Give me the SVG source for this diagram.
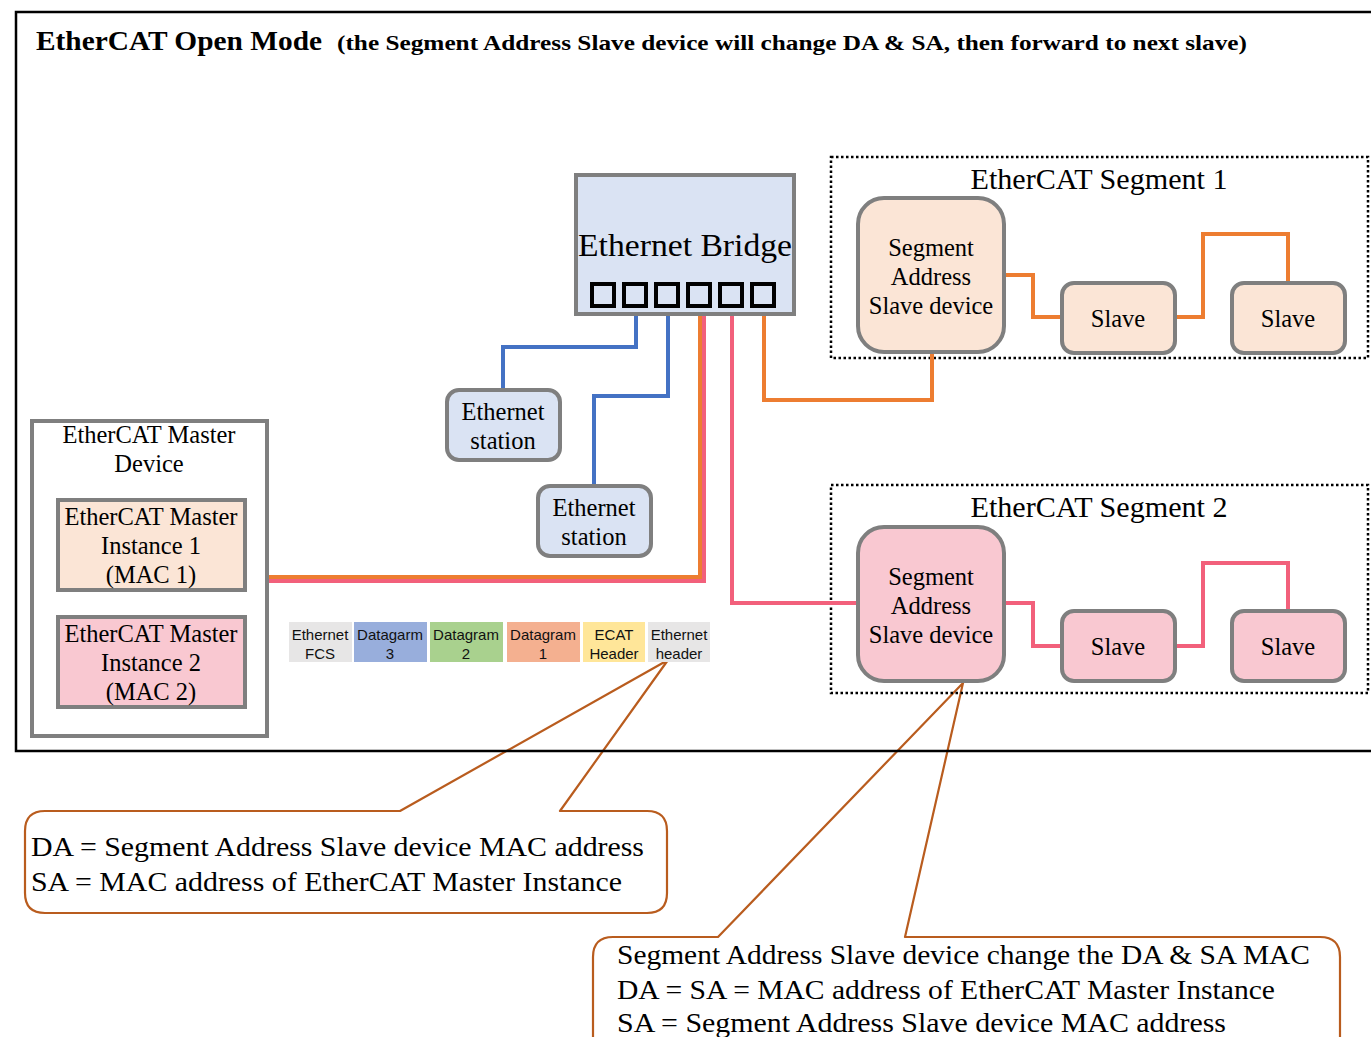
<svg xmlns="http://www.w3.org/2000/svg" width="1371" height="1037" viewBox="0 0 1371 1037">
<style>
.t{font-family:"Liberation Serif",serif;fill:#000;text-anchor:middle}
.n{font-size:24.5px}
.box{stroke:#7f7f7f;stroke-width:4}
.blue{fill:#dae3f3}
.peach{fill:#fbe5d6}
.pink{fill:#f9c8d1}
.cell{font-family:"Liberation Sans",Arial,sans-serif;font-size:15px;text-anchor:middle;fill:#111}
.seg{fill:none;stroke:#000;stroke-width:2.5;stroke-dasharray:2.5 2.5}
.w{fill:none;stroke-width:4}
.o{stroke:#ed7d31}
.p{stroke:#f2607b}
.b{stroke:#4472c4}
.co{fill:#fff;stroke:#b95c1e;stroke-width:2.2;stroke-linejoin:round}
.ct{font-family:"Liberation Serif",serif;font-size:28px;fill:#000}
</style>
<rect width="1371" height="1037" fill="#fff"/>

<g id="callout1">
<path class="co" d="M45,811 H400 L668,660 L560,811 H647 Q667,811 667,831 V893 Q667,913 647,913 H45 Q25,913 25,893 V831 Q25,811 45,811 Z"/>
<text class="ct" x="31" y="856" textLength="613" lengthAdjust="spacingAndGlyphs">DA = Segment Address Slave device MAC address</text>
<text class="ct" x="31" y="891" textLength="591" lengthAdjust="spacingAndGlyphs">SA = MAC address of EtherCAT Master Instance</text>
</g>
<g id="callout2">
<path class="co" d="M613,937 H718 L963,683 L905,937 H1320 Q1340,937 1340,957 V1050 H593 V957 Q593,937 613,937 Z"/>
<text class="ct" x="617" y="964" textLength="693" lengthAdjust="spacingAndGlyphs">Segment Address Slave device change the DA &amp; SA MAC</text>
<text class="ct" x="617" y="999" textLength="658" lengthAdjust="spacingAndGlyphs">DA = SA = MAC address of EtherCAT Master Instance</text>
<text class="ct" x="617" y="1032" textLength="609" lengthAdjust="spacingAndGlyphs">SA = Segment Address Slave device MAC address</text>
</g>

<path d="M1371,12 H16 V751 H1371" fill="none" stroke="#000" stroke-width="2.5"/>

<g id="title">
<text x="36" y="50" font-family="Liberation Serif,serif" font-weight="bold" font-size="28" textLength="286" lengthAdjust="spacingAndGlyphs">EtherCAT Open Mode</text>
<text x="337" y="50" font-family="Liberation Serif,serif" font-weight="bold" font-size="21" textLength="910" lengthAdjust="spacingAndGlyphs">(the Segment Address Slave device will change DA &amp; SA, then forward to next slave)</text>
</g>

<g id="segment1">
<rect class="seg" x="831" y="157" width="537" height="201"/>
<text class="t" x="1099" y="189" font-size="29" textLength="257" lengthAdjust="spacingAndGlyphs">EtherCAT Segment 1</text>
</g>
<g id="segment2">
<rect class="seg" x="831" y="485" width="537" height="208"/>
<text class="t" x="1099" y="517" font-size="29" textLength="257" lengthAdjust="spacingAndGlyphs">EtherCAT Segment 2</text>
</g>

<g id="connectors">
<path class="w b" d="M636,308 V347 H503 V390"/>
<path class="w b" d="M668,308 V396 H594 V486"/>
<path class="w o" d="M700,308 V577 H268"/>
<path class="w p" d="M704,308 V581 H268"/>
<path class="w p" d="M732,308 V603 H857"/>
<path class="w o" d="M764,308 V400 H932 V352"/>
<path class="w o" d="M1005,275 H1033 V317 H1061"/>
<path class="w o" d="M1175,317 H1203 V234 H1288 V282"/>
<path class="w p" d="M1005,603 H1033 V646 H1061"/>
<path class="w p" d="M1175,646 H1203 V563 H1288 V610"/>
</g>

<g id="bridge">
<rect class="box blue" x="576" y="175" width="218" height="139"/>
<text class="t" x="685" y="256" font-size="32" textLength="214" lengthAdjust="spacingAndGlyphs">Ethernet Bridge</text>
<g fill="#dae3f3" stroke="#000" stroke-width="4">
<rect x="592" y="284" width="22" height="22"/>
<rect x="624" y="284" width="22" height="22"/>
<rect x="656" y="284" width="22" height="22"/>
<rect x="688" y="284" width="22" height="22"/>
<rect x="720" y="284" width="22" height="22"/>
<rect x="752" y="284" width="22" height="22"/>
</g>
</g>

<g id="station1">
<rect class="box blue" x="447" y="390" width="113" height="70" rx="12"/>
<text class="t n" x="503" y="420">Ethernet</text>
<text class="t n" x="503" y="449">station</text>
</g>
<g id="station2">
<rect class="box blue" x="538" y="486" width="113" height="70" rx="12"/>
<text class="t n" x="594" y="516">Ethernet</text>
<text class="t n" x="594" y="545">station</text>
</g>

<g id="master">
<rect class="box" fill="#fff" x="32" y="421" width="235" height="315"/>
<text class="t n" x="149" y="443">EtherCAT Master</text>
<text class="t n" x="149" y="472">Device</text>
</g>
<g id="instance1">
<rect class="box peach" x="58" y="500" width="187" height="90"/>
<text class="t n" x="151" y="525">EtherCAT Master</text>
<text class="t n" x="151" y="554">Instance 1</text>
<text class="t n" x="151" y="583">(MAC 1)</text>
</g>
<g id="instance2">
<rect class="box pink" x="58" y="617" width="187" height="90"/>
<text class="t n" x="151" y="642">EtherCAT Master</text>
<text class="t n" x="151" y="671">Instance 2</text>
<text class="t n" x="151" y="700">(MAC 2)</text>
</g>

<g id="frame">
<rect x="289" y="622" width="63" height="40" fill="#e7e6e6"/>
<rect x="354" y="622" width="73" height="40" fill="#98aedc"/>
<rect x="430" y="622" width="73" height="40" fill="#a9d18e"/>
<rect x="507" y="622" width="73" height="40" fill="#f4b090"/>
<rect x="583" y="622" width="62" height="40" fill="#ffe699"/>
<rect x="648" y="622" width="62" height="40" fill="#e7e6e6"/>
<text class="cell" x="320" y="640">Ethernet</text><text class="cell" x="320" y="659">FCS</text>
<text class="cell" x="390" y="640">Datagarm</text><text class="cell" x="390" y="659">3</text>
<text class="cell" x="466" y="640">Datagram</text><text class="cell" x="466" y="659">2</text>
<text class="cell" x="543" y="640">Datagram</text><text class="cell" x="543" y="659">1</text>
<text class="cell" x="614" y="640">ECAT</text><text class="cell" x="614" y="659">Header</text>
<text class="cell" x="679" y="640">Ethernet</text><text class="cell" x="679" y="659">header</text>
</g>

<g id="sas1">
<rect class="box peach" x="858" y="198" width="146" height="154" rx="26"/>
<text class="t n" x="931" y="256">Segment</text>
<text class="t n" x="931" y="285">Address</text>
<text class="t n" x="931" y="314">Slave device</text>
</g>
<g id="slave1a">
<rect class="box peach" x="1062" y="283" width="113" height="70" rx="12"/>
<text class="t n" x="1118" y="327">Slave</text>
</g>
<g id="slave1b">
<rect class="box peach" x="1232" y="283" width="113" height="70" rx="12"/>
<text class="t n" x="1288" y="327">Slave</text>
</g>
<g id="sas2">
<rect class="box pink" x="858" y="527" width="146" height="154" rx="26"/>
<text class="t n" x="931" y="585">Segment</text>
<text class="t n" x="931" y="614">Address</text>
<text class="t n" x="931" y="643">Slave device</text>
</g>
<g id="slave2a">
<rect class="box pink" x="1062" y="611" width="113" height="70" rx="12"/>
<text class="t n" x="1118" y="655">Slave</text>
</g>
<g id="slave2b">
<rect class="box pink" x="1232" y="611" width="113" height="70" rx="12"/>
<text class="t n" x="1288" y="655">Slave</text>
</g>
</svg>
